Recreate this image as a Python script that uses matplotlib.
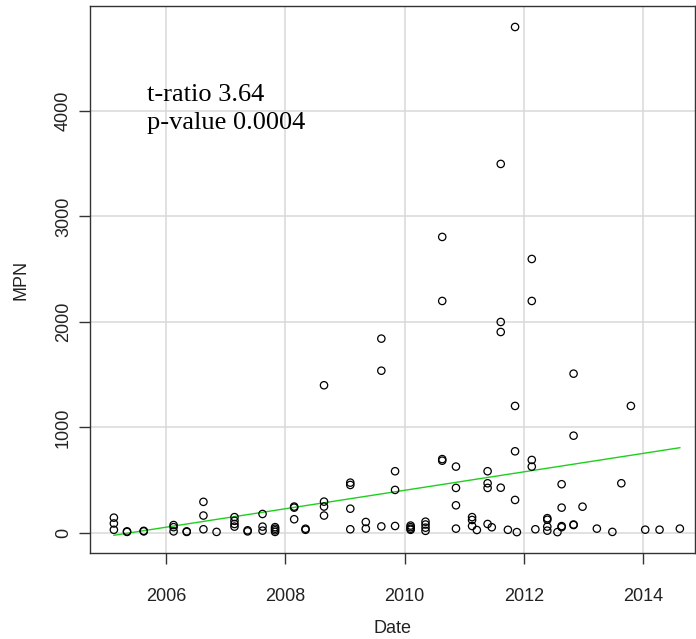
import matplotlib
matplotlib.use("Agg")
import matplotlib.pyplot as plt

# sample dates (decimal years) and MPN counts
dates = [
    2005.13, 2005.13, 2005.13, 2005.35, 2005.35, 2005.63, 2005.63,
    2006.13, 2006.13, 2006.13, 2006.35, 2006.35, 2006.63, 2006.63, 2006.63,
    2006.85, 2007.15, 2007.15, 2007.15, 2007.15, 2007.37, 2007.37,
    2007.62, 2007.62, 2007.62, 2007.83, 2007.83, 2007.83, 2007.83,
    2008.15, 2008.15, 2008.15, 2008.34, 2008.34,
    2008.65, 2008.65, 2008.65, 2008.65, 2009.09, 2009.09, 2009.09, 2009.09,
    2009.35, 2009.35, 2009.61, 2009.61, 2009.61, 2009.84, 2009.84, 2009.84,
    2010.10, 2010.10, 2010.10, 2010.10, 2010.35, 2010.35, 2010.35, 2010.35,
    2010.63, 2010.63, 2010.63, 2010.63, 2010.86, 2010.86, 2010.86, 2010.86,
    2011.13, 2011.13, 2011.13, 2011.21, 2011.39, 2011.39, 2011.39, 2011.39,
    2011.46, 2011.61, 2011.61, 2011.61, 2011.61, 2011.73,
    2011.85, 2011.85, 2011.85, 2011.85, 2011.88,
    2012.13, 2012.13, 2012.13, 2012.13, 2012.19,
    2012.39, 2012.39, 2012.39, 2012.39, 2012.56,
    2012.63, 2012.63, 2012.63, 2012.63, 2012.83, 2012.83, 2012.83, 2012.83,
    2012.98, 2013.22, 2013.48, 2013.63, 2013.79, 2014.03, 2014.27, 2014.61,
]
mpn = [
    145, 90, 30, 15, 10, 20, 15,
    75, 55, 15, 15, 10, 295, 165, 35,
    10, 150, 115, 85, 60, 25, 15,
    180, 60, 22, 55, 40, 25, 10,
    250, 240, 130, 40, 30,
    1400, 297, 250, 165, 477, 455, 230, 35,
    104, 41, 1842, 1538, 62, 585, 408, 66,
    70, 55, 40, 30, 107, 80, 50, 20,
    2806, 2199, 700, 685, 629, 427, 262, 41,
    150, 123, 66, 28, 585, 471, 427, 85,
    54, 3498, 2000, 1905, 429, 30,
    4796, 1204, 774, 313, 8,
    2597, 2199, 692, 629, 35,
    140, 125, 60, 22, 8,
    462, 240, 65, 55, 1510, 922, 80, 75,
    249, 41, 10, 471, 1204, 31, 31, 41,
]

# trend line end points
fit_x = [2005.13, 2014.61]
fit_y = [-22, 808]

x_ticks = [2006, 2008, 2010, 2012, 2014]
y_ticks = [0, 1000, 2000, 3000, 4000]

plt.rcParams['font.family'] = ['Liberation Sans', 'DejaVu Sans']

fig = plt.figure(figsize=(6.96, 6.39), dpi=100)
ax = fig.add_axes([90 / 696, 1 - 553 / 639, 605 / 696, 547 / 639])

ax.scatter(dates, mpn, s=28, facecolors='none', edgecolors='black',
           linewidths=0.9, zorder=3)
ax.plot(fit_x, fit_y, color='#1fcf1f', linewidth=1.0, zorder=2)

ax.set_xlim(2004.73, 2014.864)
ax.set_ylim(-190, 4995)
ax.set_xticks(x_ticks)
ax.set_yticks(y_ticks)
ax.set_yticklabels([str(v) for v in y_ticks], rotation=90, va='center')
ax.grid(color='#d9d9d9', linewidth=1.1)
ax.set_axisbelow(True)

for s in ax.spines.values():
    s.set_color('#333333')
    s.set_linewidth(1.0)
ax.tick_params(direction='out', length=8, width=1.0, color='#333333',
               labelsize=13, labelcolor='#222222')
ax.tick_params(axis='x', pad=17.5)
ax.tick_params(axis='y', pad=5)

ax.set_xlabel('Date', fontsize=13, color='#222222', labelpad=10.5)
ax.set_ylabel('MPN', fontsize=13, color='#222222', labelpad=18)

ax.text(2005.685, 4152, 't-ratio 3.64', family=['Liberation Serif'],
        fontsize=19, va='center', ha='left')
ax.text(2005.685, 3886, 'p-value 0.0004', family=['Liberation Serif'],
        fontsize=19, va='center', ha='left')

fig.savefig('out.png', dpi=100)
